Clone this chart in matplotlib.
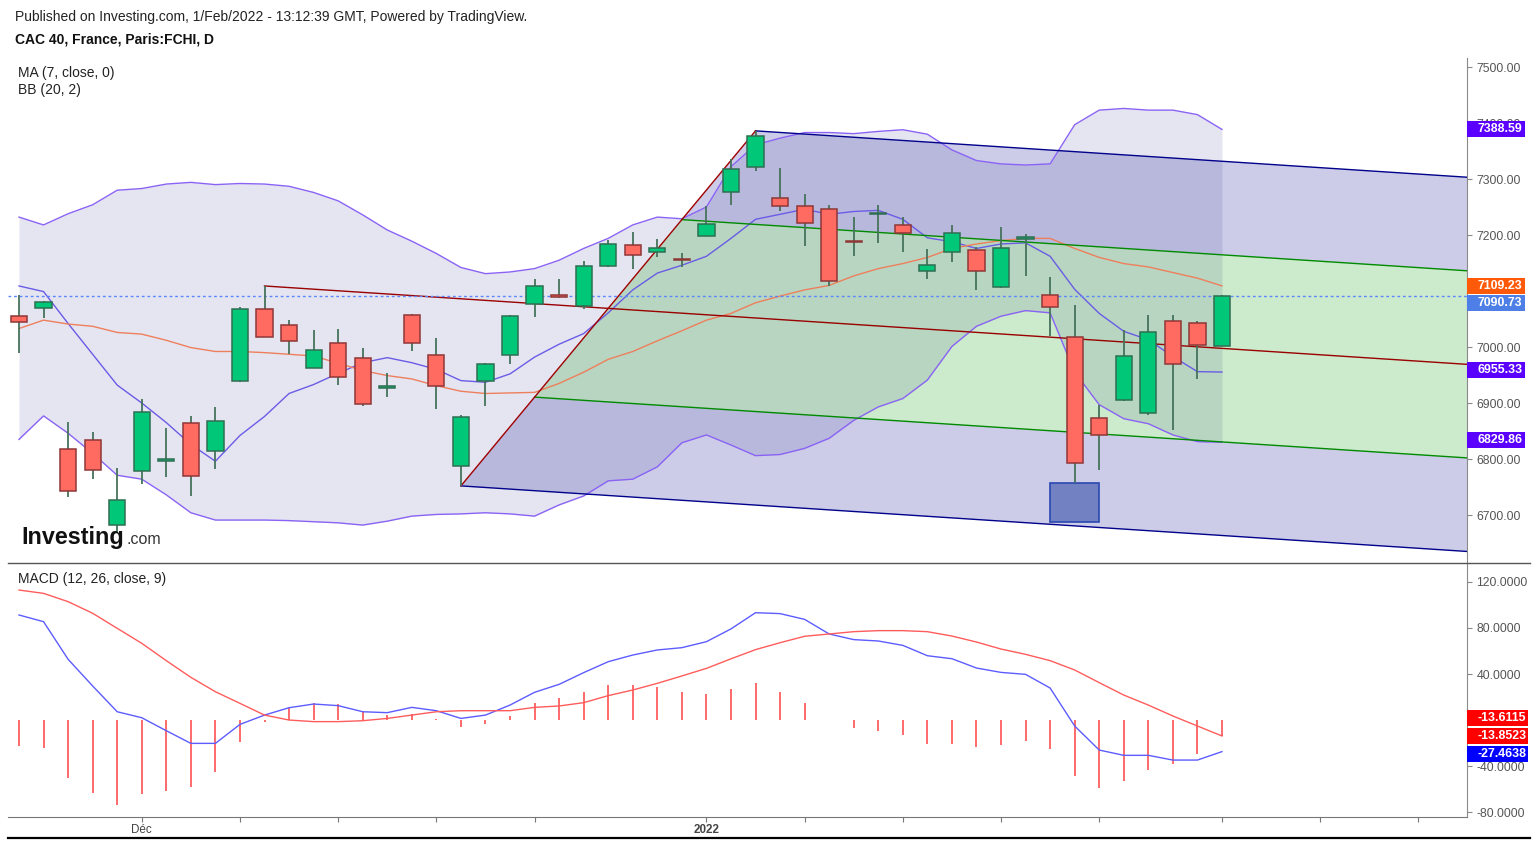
import matplotlib
matplotlib.use('Agg')
import matplotlib.pyplot as plt
from matplotlib.patches import Rectangle, Polygon
from matplotlib.lines import Line2D
import numpy as np

# ---------------- data ----------------
opens = [7055, 7069, 6818, 6834, 6683, 6778, 6797, 6864, 6814, 6939,
         7067, 7039, 6963, 7007, 6981, 6927, 7058, 6985, 6788, 6939,
         6985, 7076, 7093, 7074, 7144, 7182, 7170, 7157, 7199, 7276,
         7322, 7266, 7252, 7246, 7188, 7237, 7218, 7135, 7170, 7174,
         7107, 7192, 7092, 7017, 6874, 6905, 6883, 7046, 7043, 7002]
highs = [7093, 7083, 6866, 6848, 6784, 6907, 6855, 6877, 6893, 7071,
         7109, 7048, 7030, 7033, 6998, 6953, 7059, 7016, 6878, 6972,
         7057, 7122, 7121, 7153, 7191, 7205, 7193, 7167, 7251, 7335,
         7386, 7319, 7273, 7254, 7232, 7253, 7232, 7175, 7217, 7178,
         7215, 7202, 7125, 7075, 6896, 7030, 7057, 7057, 7046, 7093]
lows = [6989, 7052, 6732, 6765, 6667, 6755, 6767, 6734, 6782, 6938,
        7017, 6987, 6962, 6933, 6895, 6910, 6992, 6890, 6752, 6895,
        6969, 7054, 7087, 7067, 7143, 7140, 7161, 7143, 7198, 7253,
        7315, 7243, 7181, 7109, 7163, 7186, 7170, 7122, 7152, 7102,
        7106, 7127, 7019, 6758, 6781, 6904, 6879, 6851, 6942, 7001]
closes = [7045, 7080, 6743, 6780, 6726, 6884, 6800, 6770, 6868, 7067,
          7017, 7011, 6995, 6946, 6898, 6931, 7007, 6930, 6875, 6969,
          7055, 7109, 7089, 7144, 7184, 7164, 7176, 7155, 7220, 7318,
          7377, 7252, 7222, 7117, 7187, 7238, 7204, 7146, 7204, 7135,
          7176, 7196, 7071, 6792, 6843, 6984, 7027, 6969, 7004, 7090.73]

ma7 = [7109, 7099, 7042, 6987, 6932, 6900, 6865, 6826, 6796, 6842,
       6876, 6917, 6933, 6953, 6972, 6981, 6972, 6960, 6940, 6937,
       6952, 6982, 7005, 7024, 7061, 7102, 7132, 7146, 7162, 7194,
       7228, 7237, 7246, 7237, 7242, 7244, 7228, 7195, 7188, 7176,
       7184, 7186, 7162, 7103, 7060, 7028, 7013, 6983, 6956, 6955.33]
bb_mid = [7033, 7048, 7041, 7037, 7026, 7023, 7012, 6999, 6992, 6992,
          6990, 6987, 6984, 6971, 6958, 6949, 6943, 6931, 6921, 6917,
          6918, 6919, 6935, 6955, 6978, 6992, 7011, 7029, 7048, 7060,
          7079, 7091, 7102, 7110, 7127, 7140, 7149, 7160, 7176, 7184,
          7190, 7194, 7194, 7176, 7160, 7149, 7143, 7133, 7123, 7109.23]
bb_up = [7232, 7218, 7238, 7254, 7280, 7283, 7291, 7294, 7290, 7292,
         7291, 7287, 7276, 7261, 7236, 7209, 7189, 7167, 7142, 7131,
         7134, 7140, 7155, 7176, 7194, 7218, 7232, 7229, 7250, 7322,
         7361, 7373, 7383, 7383, 7381, 7385, 7388, 7380, 7352, 7333,
         7327, 7325, 7327, 7397, 7423, 7426, 7423, 7423, 7415, 7388.59]
bb_lo = [6835, 6877, 6846, 6810, 6771, 6764, 6736, 6704, 6691, 6691,
         6691, 6690, 6688, 6686, 6682, 6689, 6698, 6701, 6702, 6704,
         6702, 6698, 6718, 6734, 6761, 6764, 6786, 6829, 6843, 6825,
         6806, 6808, 6819, 6837, 6869, 6893, 6908, 6941, 7001, 7037,
         7055, 7065, 7061, 6955, 6897, 6872, 6863, 6843, 6831, 6829.86]

macd = [91.3, 85.5, 52.8, 29.6, 7.2, 2.0, -9.3, -20.3, -20.3, -3.8,
        4.3, 10.7, 13.9, 12.5, 7.2, 6.4, 11.0, 8.1, 1.4, 4.3,
        13.0, 24.1, 31.0, 41.2, 50.7, 56.5, 60.9, 62.9, 68.1, 79.2,
        93.3, 92.5, 87.5, 74.8, 69.9, 68.7, 64.9, 55.9, 53.3, 45.2,
        41.4, 39.7, 27.8, -5.2, -26.1, -30.7, -30.7, -34.8, -34.8, -27.4638]
signal = [113.0, 110.1, 102.9, 92.8, 79.7, 66.7, 51.6, 37.1, 24.6, 14.5,
          4.3, 0.0, -1.4, -1.4, -0.6, 1.4, 4.3, 7.2, 8.1, 8.1,
          8.1, 11.0, 12.2, 15.1, 21.2, 26.1, 31.9, 38.3, 44.9, 53.2,
          61.2, 67.2, 72.8, 74.8, 76.8, 77.7, 77.7, 76.8, 73.0, 67.8,
          61.7, 57.1, 51.6, 43.5, 32.5, 21.7, 13.0, 3.5, -5.2, -13.8523]
hist = [-22.3, -24.6, -50.0, -63.8, -73.9, -64.7, -61.7, -58.0, -44.9, -18.8,
        -1.4, 10.1, 15.1, 13.9, 7.2, 4.3, 5.2, 0.6, -6.4, -3.5,
        3.5, 14.5, 18.8, 24.6, 30.4, 30.4, 29.0, 24.6, 22.6, 27.2,
        31.9, 24.3, 14.8, 0.3, -7.0, -9.3, -12.8, -20.6, -20.6, -23.8,
        -21.7, -18.0, -24.9, -48.4, -58.8, -52.8, -43.5, -38.3, -29.3, -13.6115]

xtick_idx = [5, 9, 13, 17, 21, 28, 32, 36, 40, 44, 49, 53, 57]
xtick_text = {5: 'Déc', 28: '2022'}
price_ticks = [6700, 6800, 6900, 7000, 7100, 7200, 7300, 7400, 7500]
macd_ticks = [-80, -40, 0, 40, 80, 120]
hidden_ticks = [7100, 0]          # fully covered by value labels in the reference
pivot_idx = [10, 18, 30]          # Andrews' pitchfork anchors
box_idx = [42, 44]                # rectangle drawing
box_price = [6688, 6758]

# ---------------- figure ----------------
plt.rcParams['font.family'] = ['Liberation Sans', 'DejaVu Sans']
W, H = 1539, 844
fig = plt.figure(figsize=(W / 100, H / 100), dpi=100)
fig.patch.set_facecolor('white')


def frect(l, t, r, b):
    return [l / W, 1 - b / H, (r - l) / W, (b - t) / H]


ax = fig.add_axes(frect(8, 58, 1467, 563))
axm = fig.add_axes(frect(8, 563, 1467, 817))
XMIN, XMAX = -0.448, 58.98
n = len(closes)
x = np.arange(n)
for a in (ax, axm):
    a.set_xlim(XMIN, XMAX)
    a.set_facecolor('none')
ax.set_ylim(6614.3, 7516.1)
axm.set_ylim(-84.3, 136.5)

# Bollinger band fill
ax.fill_between(x, bb_lo, bb_up, color='#e5e5f1', lw=0, zorder=1)

# pitchfork
p1 = (pivot_idx[0], highs[pivot_idx[0]])
p2 = (pivot_idx[1], lows[pivot_idx[1]])
p3 = (pivot_idx[2], highs[pivot_idx[2]])
mid = ((p2[0] + p3[0]) / 2, (p2[1] + p3[1]) / 2)
slope = (mid[1] - p1[1]) / (mid[0] - p1[0])


def ext(p):
    return (XMAX, p[1] + slope * (XMAX - p[0]))


def along(f):
    return (p2[0] + f * (p3[0] - p2[0]), p2[1] + f * (p3[1] - p2[1]))


q75, q25 = along(0.75), along(0.25)
blue_fill = (0.1, 0.1, 0.6, 0.22)
green_fill = (0.0, 0.6, 0.0, 0.20)
ax.add_patch(Polygon([p3, ext(p3), ext(q75), q75], closed=True, fc=blue_fill, ec='none', zorder=2))
ax.add_patch(Polygon([q75, ext(q75), ext(q25), q25], closed=True, fc=green_fill, ec='none', zorder=2))
ax.add_patch(Polygon([q25, ext(q25), ext(p2), p2], closed=True, fc=blue_fill, ec='none', zorder=2))
for pa, col in ((p3, '#00008b'), (p2, '#00008b'), (q75, '#008a00'), (q25, '#008a00')):
    e = ext(pa)
    ax.plot([pa[0], e[0]], [pa[1], e[1]], color=col, lw=1, zorder=4)
em = ext(p1)
ax.plot([p1[0], em[0]], [p1[1], em[1]], color='#990000', lw=1, zorder=4)
ax.plot([p2[0], p3[0]], [p2[1], p3[1]], color='#a00000', lw=1, zorder=4)

# indicator lines
ax.plot(x, bb_up, color='#8a63f5', lw=1, zorder=3)
ax.plot(x, bb_lo, color='#8a63f5', lw=1, zorder=3)
ax.plot(x, ma7, color='#6a5ce6', lw=1, zorder=3)
ax.plot(x, bb_mid, color='#ee7f5c', lw=1, zorder=3)

# current price line
ax.axhline(closes[-1], color='#5b86ff', lw=1, ls=(0, (2, 2)), zorder=4)

# rectangle drawing
ax.add_patch(Rectangle((box_idx[0], box_price[0]), box_idx[1] - box_idx[0], box_price[1] - box_price[0],
                       fc='#7181c2', ec='#2b48b0', lw=1.2, zorder=4))

# candles
o = np.array(opens, float)
c = np.array(closes, float)
upc = c >= o
face = np.where(upc, '#00c878', '#ff6a61')
edge = np.where(upc, '#2f6e52', '#8f3636')
ax.vlines(x, lows, highs, color='#46735c', lw=1.3, zorder=5)
ax.bar(x, np.maximum(np.abs(c - o), 3.0), bottom=np.minimum(o, c), width=0.66,
       color=face, edgecolor=edge, linewidth=1.1, zorder=6)

# MACD panel
axm.vlines(x, 0, hist, color='#ff4444', lw=1.3, alpha=0.85, zorder=2)
axm.plot(x, macd, color='#5c5cff', lw=1, zorder=3)
axm.plot(x, signal, color='#ff5c5c', lw=1, zorder=3)

# axes styling
for a in (ax, axm):
    a.spines['top'].set_visible(False)
    a.spines['left'].set_visible(False)
    a.spines['right'].set_color('#8a8a8a')
    a.yaxis.tick_right()
    a.tick_params(axis='y', direction='out', length=3.6, width=0.8, color='#8a8a8a',
                  labelcolor='#555555', labelsize=8.8, pad=3.2)
ax.spines['bottom'].set_visible(False)
axm.spines['bottom'].set_color('#777777')
ax.tick_params(axis='x', bottom=False, labelbottom=False)
ax.set_yticks(price_ticks)
ax.set_yticklabels(['' if v in hidden_ticks else f'{v:.2f}' for v in price_ticks])
axm.set_yticks(macd_ticks)
axm.set_yticklabels(['' if v in hidden_ticks else f'{v:.4f}' for v in macd_ticks])
axm.set_xticks(xtick_idx)
axm.set_xticklabels([xtick_text.get(i, '') for i in xtick_idx])
axm.tick_params(axis='x', direction='out', length=3.6, width=0.8, color='#777777',
                labelcolor='#444444', labelsize=8.4, pad=1.5)
for lab in axm.get_xticklabels():
    if lab.get_text() == '2022':
        lab.set_fontweight('bold')

# separators
fig.add_artist(Line2D([8 / W, 1530 / W], [1 - 563 / H, 1 - 563 / H], color='#555555', lw=1))
fig.add_artist(Line2D([8 / W, 1530 / W], [1 - 838 / H, 1 - 838 / H], color='#000000', lw=1.6))

# value labels on the right axis
fig.canvas.draw()


def value_label(a, val, fmt, color, nudge_px, width_px):
    yd = a.transData.transform((0, val))[1] + nudge_px
    yc = yd / fig.dpi / fig.get_figheight()
    hh = 16 / H
    fig.add_artist(Rectangle((1467 / W, yc - hh / 2), width_px / W, hh,
                             transform=fig.transFigure, fc=color, ec='none', zorder=10))
    fig.text(1477 / W, yc, fmt.format(val), color='white', fontsize=8.9, fontweight='bold',
             va='center', ha='left', zorder=11)


value_label(ax, bb_up[-1], '{:.2f}', '#5a00ff', 0, 58)
value_label(ax, bb_mid[-1], '{:.2f}', '#ff5a0a', 0, 58)
value_label(ax, closes[-1], '{:.2f}', '#4d7fe6', -6.8, 58)
value_label(ax, ma7[-1], '{:.2f}', '#5a00ff', 2, 58)
value_label(ax, bb_lo[-1], '{:.2f}', '#5a00ff', 2, 58)
value_label(axm, hist[-1], '{:.4f}', '#ff0000', 17.6, 61)
value_label(axm, signal[-1], '{:.4f}', '#ff0000', 0, 61)
value_label(axm, macd[-1], '{:.4f}', '#0000ff', -2.4, 61)

# header texts
def ftext(px, py, s, **kw):
    fig.text(px / W, 1 - py / H, s, va='center', ha='left', **kw)


ftext(15, 17, 'Published on Investing.com, 1/Feb/2022 - 13:12:39 GMT, Powered by TradingView.',
      fontsize=10, color='#222222')
ftext(15, 40, 'CAC 40, France, Paris:FCHI, D', fontsize=10, color='#111111', fontweight='bold')
ftext(18, 73, 'MA (7, close, 0)', fontsize=10, color='#222222')
ftext(18, 90, 'BB (20, 2)', fontsize=10, color='#222222')
ftext(18, 579, 'MACD (12, 26, close, 9)', fontsize=10, color='#222222')

# investing.com logo
fig.text(21 / W, 1 - 544 / H, 'Investing', fontsize=16.8, fontweight='bold', color='#111111',
         va='baseline', ha='left')
fig.text(127 / W, 1 - 544 / H, '.com', fontsize=11.5, color='#333333', va='baseline', ha='left')

fig.savefig('out.png', dpi=100, facecolor='white')
